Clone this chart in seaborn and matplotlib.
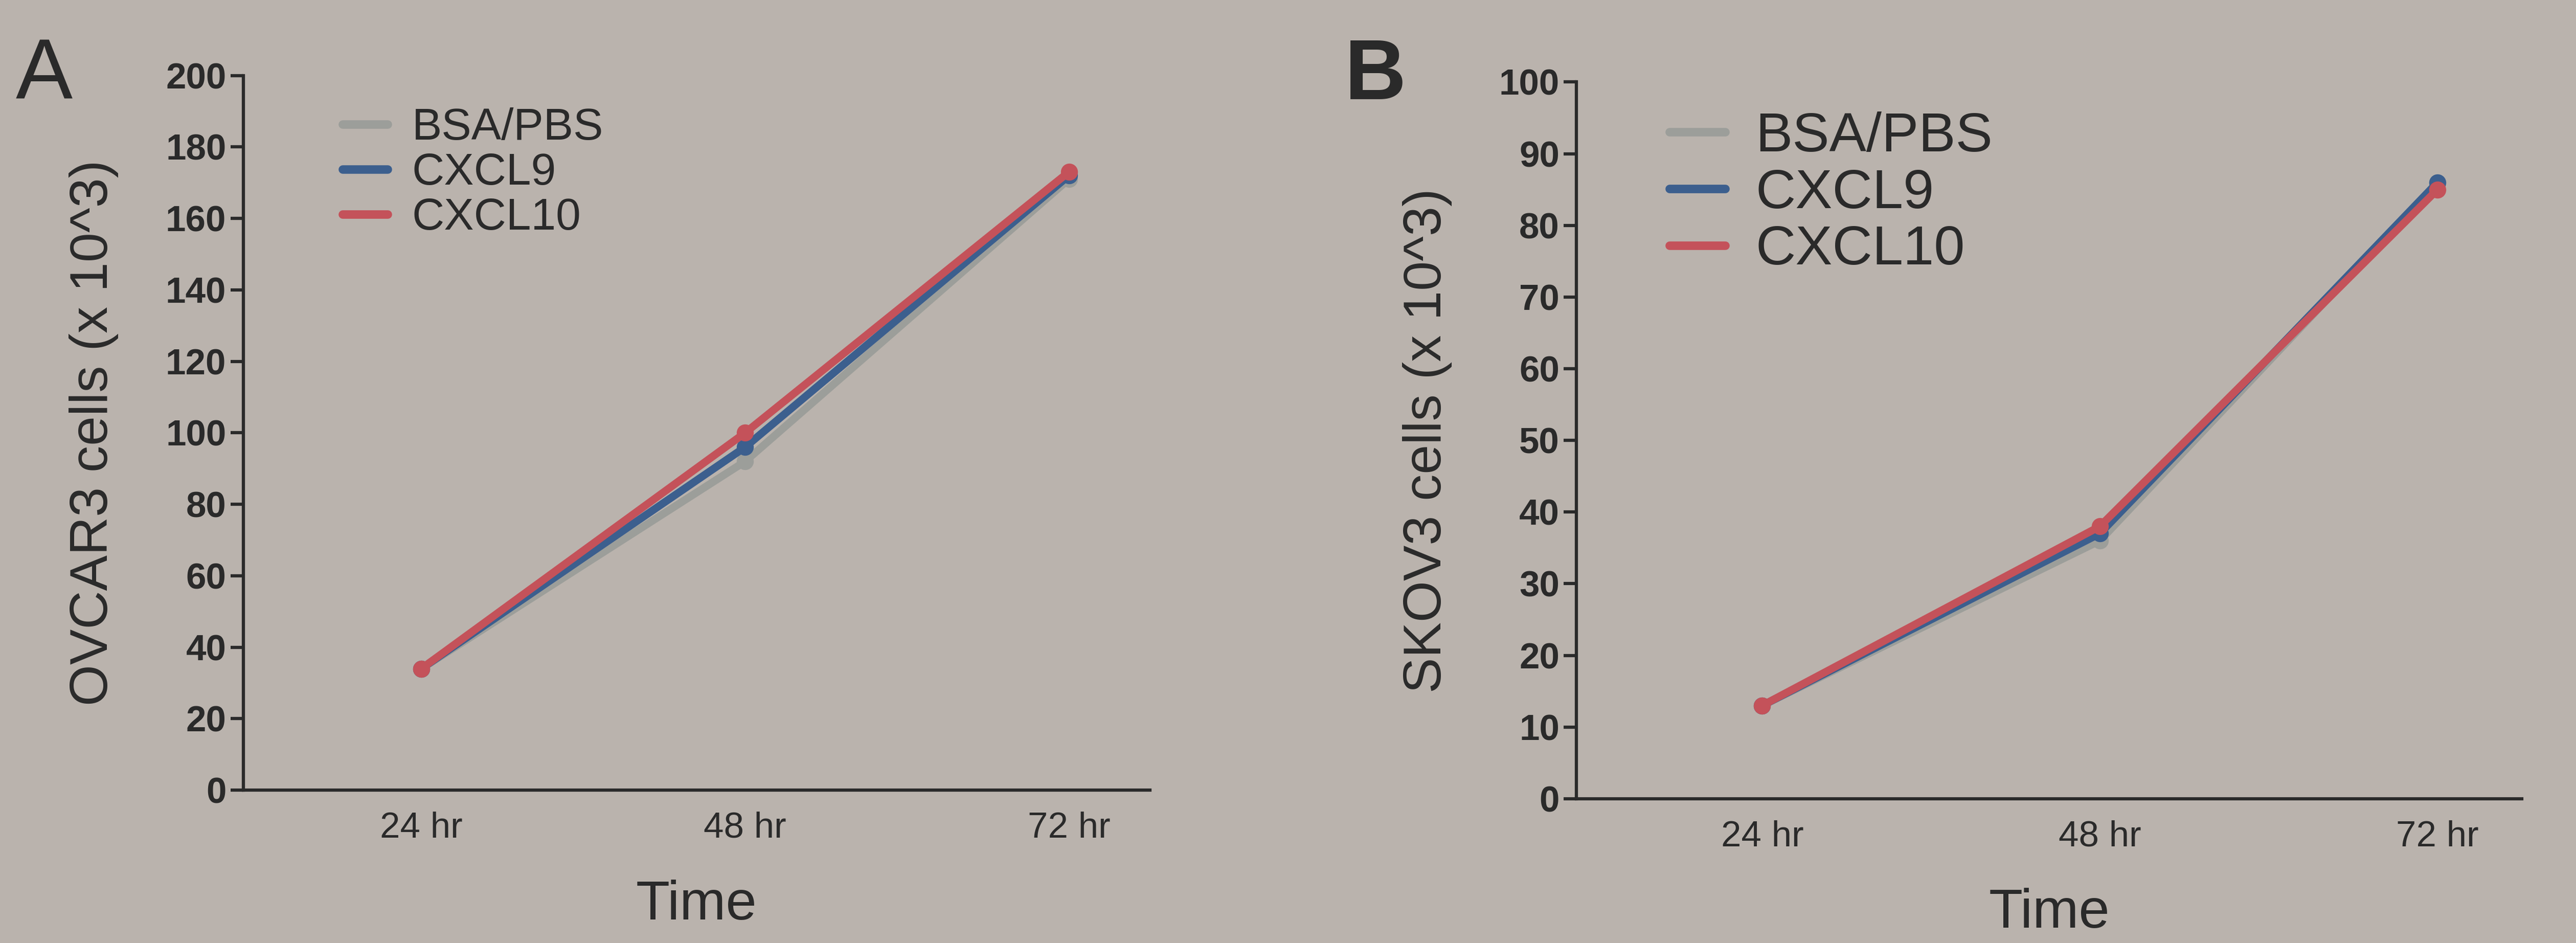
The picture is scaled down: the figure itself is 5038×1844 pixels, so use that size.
import pandas as pd
import matplotlib.pyplot as plt
import seaborn as sns

times = ["24 hr", "48 hr", "72 hr"]
groups = ["BSA/PBS", "CXCL9", "CXCL10"]

ovcar3_bsa = [34, 92, 171]
ovcar3_cxcl9 = [34, 96, 172]
ovcar3_cxcl10 = [34, 100, 173]

skov3_bsa = [13, 36, 86]
skov3_cxcl9 = [13, 37, 86]
skov3_cxcl10 = [13, 38, 85]

colors = {"BSA/PBS": "#9c9e9a", "CXCL9": "#3c5f8e", "CXCL10": "#c4525a"}
bg = "#bab3ad"
ink = "#2a2a2a"


def long_df(series):
    rows = []
    for g, vals in zip(groups, series):
        for t, v in zip(times, vals):
            rows.append({"Time": t, "Group": g, "Cells": v})
    return pd.DataFrame(rows)


df_a = long_df([ovcar3_bsa, ovcar3_cxcl9, ovcar3_cxcl10])
df_b = long_df([skov3_bsa, skov3_cxcl9, skov3_cxcl10])

sns.set_theme(style="ticks")
plt.rcParams['font.family'] = ['Liberation Sans', 'DejaVu Sans']

fig = plt.figure(figsize=(5038 / 300, 1844 / 300), dpi=300, facecolor=bg)
ax_a = fig.add_axes([0.0944, 0.162, 0.352, 0.758])
ax_b = fig.add_axes([0.612, 0.153, 0.367, 0.760])


def draw(ax, df, ymax, ylabel, leg_x, leg_y, leg_gap, leg_size):
    ax.set_facecolor(bg)
    sns.lineplot(data=df, x="Time", y="Cells", hue="Group", palette=colors,
                 hue_order=groups, marker="o", markersize=8, markeredgewidth=0,
                 linewidth=3.6, sort=False, ax=ax)
    ax.set_ylim(0, ymax)
    ax.set_yticks(range(0, ymax + 1, ymax // 10))
    ax.set_xlim(-0.55, 2.25)
    ax.set_xlabel("Time", fontsize=26, color=ink, labelpad=16)
    ax.set_ylabel(ylabel, fontsize=25, color=ink, labelpad=22)
    ax.tick_params(axis="y", length=6, width=1.5, labelsize=17, colors=ink, pad=2)
    ax.tick_params(axis="x", length=0, labelsize=17, colors=ink, pad=10)
    for lbl in ax.get_yticklabels():
        lbl.set_fontweight("bold")
    sns.despine(ax=ax)
    for s in ["left", "bottom"]:
        ax.spines[s].set_linewidth(1.5)
        ax.spines[s].set_color(ink)
    leg = ax.legend(loc="upper left", bbox_to_anchor=(leg_x, leg_y), frameon=False,
                    fontsize=leg_size, handlelength=1.0, handletextpad=0.55,
                    labelspacing=leg_gap, borderaxespad=0)
    for h in leg.get_lines():
        h.set_marker("")
        h.set_linewidth(4)
    for t in leg.get_texts():
        t.set_color(ink)


draw(ax_a, df_a, 200, "OVCAR3 cells (x 10^3)", 0.09, 0.98, 0.08, 21)
draw(ax_b, df_b, 100, "SKOV3 cells (x 10^3)", 0.075, 0.99, 0.1, 26)

fig.text(0.006, 0.895, "A", fontsize=40, color=ink)
fig.text(0.522, 0.895, "B", fontsize=40, color=ink, fontweight="bold")

fig.savefig("out.png", dpi=300, facecolor=bg)
